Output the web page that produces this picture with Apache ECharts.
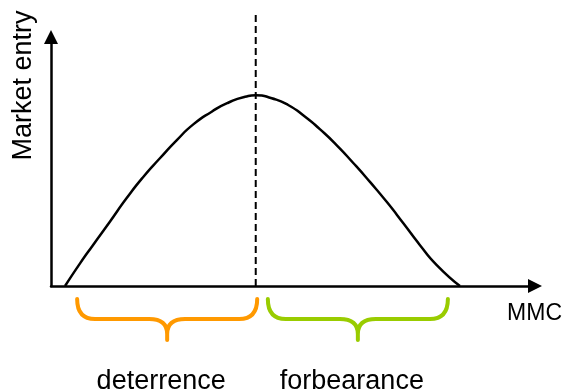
<!DOCTYPE html>
<html>
<head>
<meta charset="utf-8">
<script src="https://cdn.jsdelivr.net/npm/echarts@6/dist/echarts.min.js"></script>
<style>
  html, body { margin: 0; padding: 0; background: #fff; }
  #chart { width: 570px; height: 391px; }
</style>
</head>
<body>
<div id="chart"></div>
<script>
// curve (x = MMC, y = market entry, both 0-100)
const curveX = [2.9, 6.0, 8.7, 12.2, 15.6, 19.1, 22.5, 26.0, 29.4, 33.2, 36.6, 40.1, 42.3,
  45.6, 49.0, 52.5, 55.6, 59.0, 62.5, 65.9, 69.4, 72.8, 76.2, 79.7, 84.5]
const curveY = [0, 9.1, 16.5, 25.9, 35.2, 43.9, 51.3, 58.6, 64.9, 70.0, 73.6, 76.0, 76.6,
  75.4, 72.7, 68.0, 62.9, 56.6, 49.3, 41.8, 33.7, 25.2, 16.5, 8.4, 0]
const peakX = 42.3
const peakLineTop = 109.6
const braceRanges = [[5.4, 42.6], [44.8, 82.0]]
const braceLabels = ['deterrence', 'forbearance']
const braceColors = ['#ff9900', '#99cc00']

const font = 'Liberation Sans, Arial, sans-serif'
const chart = echarts.init(document.getElementById('chart'))

function renderBrace (params, api) {
  const i = params.dataIndex
  const p0 = api.coord([api.value(0), 0])
  const p1 = api.coord([api.value(1), 0])
  const x0 = p0[0]
  const x1 = p1[0]
  const xm = (x0 + x1) / 2
  const yt = p0[1] + 13
  const ym = p0[1] + 33
  const yb = p0[1] + 54
  const r = 18
  const path = [
    'M', x0, yt, 'Q', x0, ym, x0 + r, ym, 'L', xm - r, ym,
    'Q', xm, ym, xm, ym + 15, 'L', xm, yb,
    'M', xm, ym + 15, 'Q', xm, ym, xm + r, ym, 'L', x1 - r, ym,
    'Q', x1, ym, x1, yt
  ].join(' ')
  return {
    type: 'group',
    children: [{
      type: 'path',
      shape: { pathData: path },
      style: { stroke: braceColors[i], lineWidth: 4, fill: null, lineCap: 'round', lineJoin: 'round' }
    }, {
      type: 'text',
      style: {
        text: braceLabels[i],
        x: xm - 6,
        y: p0[1] + 96,
        fill: '#000',
        fontSize: 27,
        fontFamily: font,
        align: 'center',
        verticalAlign: 'middle'
      }
    }]
  }
}

chart.setOption({
  animation: false,
  grid: { left: 51, right: 35, top: 37, bottom: 105 },
  xAxis: {
    type: 'value',
    min: 0,
    max: 100,
    name: 'MMC',
    nameLocation: 'end',
    nameGap: 27,
    nameTextStyle: { fontSize: 23, fontFamily: font, color: '#000', align: 'right', verticalAlign: 'top', padding: [16, 0, 0, 0] },
    axisLine: { lineStyle: { color: '#000', width: 2.5 }, symbol: ['none', 'triangle'], symbolSize: [14, 14] },
    axisTick: { show: false },
    axisLabel: { show: false },
    splitLine: { show: false }
  },
  yAxis: {
    type: 'value',
    min: 0,
    max: 100,
    name: 'Market entry',
    nameLocation: 'middle',
    nameGap: 14,
    nameTextStyle: { fontSize: 27, fontFamily: font, color: '#000', padding: [0, 0, 0, 152] },
    axisLine: { lineStyle: { color: '#000', width: 2.5 }, symbol: ['none', 'triangle'], symbolSize: [14, 14] },
    axisTick: { show: false },
    axisLabel: { show: false },
    splitLine: { show: false }
  },
  series: [
    {
      type: 'line',
      data: curveX.map((x, i) => [x, curveY[i]]),
      smooth: 0.6,
      showSymbol: false,
      clip: false,
      lineStyle: { color: '#000', width: 2.5 }
    },
    {
      type: 'line',
      data: [[peakX, 0], [peakX, peakLineTop]],
      showSymbol: false,
      clip: false,
      silent: true,
      lineStyle: { color: '#000', width: 2, type: [7, 4] }
    },
    {
      type: 'custom',
      renderItem: renderBrace,
      clip: false,
      encode: { x: [0, 1] },
      data: braceRanges
    }
  ]
})
</script>
</body>
</html>
